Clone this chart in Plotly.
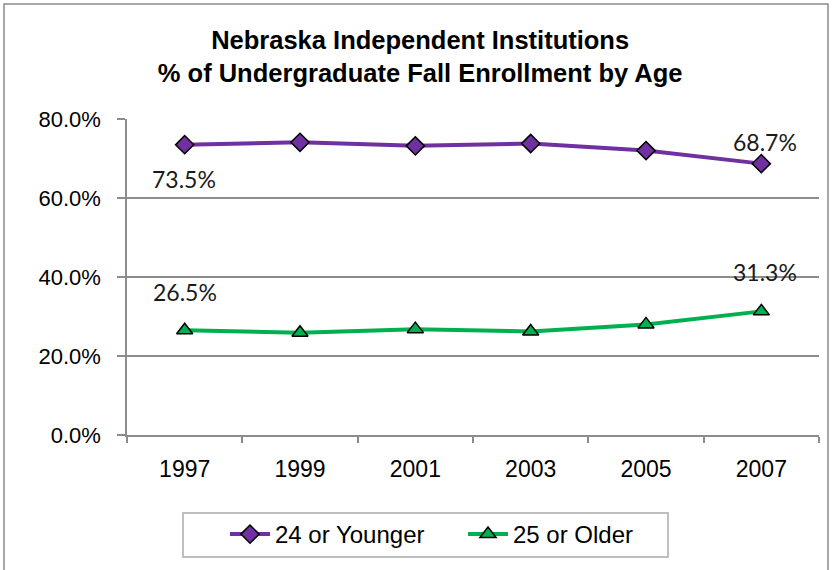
import plotly.graph_objects as go

years = ["1997", "1999", "2001", "2003", "2005", "2007"]
younger = [73.5, 74.1, 73.2, 73.8, 72.0, 68.7]
older = [26.5, 25.9, 26.8, 26.2, 28.0, 31.3]
y_ticks = [0, 20, 40, 60, 80]
y_tick_labels = ["0.0%", "20.0%", "40.0%", "60.0%", "80.0%"]

purple = "#7030A0"
green = "#00B050"
grid = "#8C8C8C"
arial = "Liberation Sans, Arial, sans-serif"

L, R, T, B = 127, 13, 119, 135
W, H = 832, 570
pw, ph = W - L - R, H - T - B


def px_x(v):
    return (v - L) / pw


def px_y(v):
    return (T + ph - v) / ph


fig = go.Figure()
fig.add_trace(go.Scatter(
    x=years, y=younger, name="24 or Younger", mode="lines+markers",
    line=dict(color=purple, width=4),
    marker=dict(symbol="diamond", size=14, color=purple, line=dict(color="black", width=1.5)),
))
fig.add_trace(go.Scatter(
    x=years, y=older, name="25 or Older", mode="lines+markers",
    line=dict(color=green, width=4),
    marker=dict(symbol="triangle-up", size=14, color=green, line=dict(color="black", width=1.5)),
))

label_font = dict(family="Lato, Open Sans, sans-serif", size=23, color="#1a1a1a")
ann = [
    (0, younger[0], -34, -1),
    (5, younger[-1], 22, 4),
    (0, older[0], 38, 0),
    (5, older[-1], 39, 4),
]
for (xi, yv, ys, xs) in ann:
    fig.add_annotation(x=xi, y=yv, xref="x", yref="y", text=f"{yv:.1f}%", showarrow=False,
                       yshift=ys, xshift=xs, font=label_font)

fig.update_layout(
    width=W, height=H,
    margin=dict(l=L, r=R, t=T, b=B, autoexpand=False),
    paper_bgcolor="white", plot_bgcolor="white",
    title=dict(
        text="Nebraska Independent Institutions<br>% of Undergraduate Fall Enrollment by Age",
        x=0.505, xref="container", xanchor="center",
        y=0.914, yref="container", yanchor="top",
        font=dict(family=arial, size=25.5, color="black", weight="bold"),
    ),
    showlegend=True,
    legend=dict(
        orientation="h", xref="container", yref="container",
        x=225 / W, y=1 - 512 / H, xanchor="left", yanchor="top",
        borderwidth=0, bgcolor="rgba(0,0,0,0)",
        font=dict(family=arial, size=24, color="black"),
        itemwidth=40, entrywidth=183,
    ),
    xaxis=dict(
        type="category", range=[-0.5, 5.5], showgrid=False, showline=True,
        linecolor=grid, linewidth=1.5, automargin=False,
        ticks="outside", tickson="boundaries", ticklen=6, tickcolor=grid, tickwidth=1.5,
        tickfont=dict(family=arial, size=23, color="black"),
        ticklabelstandoff=13, fixedrange=True,
    ),
    yaxis=dict(
        range=[0, 80], tickvals=y_ticks, ticktext=y_tick_labels, automargin=False,
        showgrid=True, gridcolor=grid, gridwidth=1.5, zeroline=False,
        showline=True, linecolor=grid, linewidth=1.5,
        ticks="outside", ticklen=8, tickcolor=grid, tickwidth=1.5,
        tickfont=dict(family=arial, size=22, color="black"),
        ticklabelstandoff=12, fixedrange=True,
    ),
    shapes=[
        dict(type="rect", xref="paper", yref="paper",
             x0=px_x(4), x1=px_x(828), y0=px_y(580), y1=px_y(4),
             line=dict(color="#8C8C8C", width=1.5), fillcolor="rgba(0,0,0,0)", layer="below"),
        dict(type="rect", xref="paper", yref="paper",
             x0=px_x(183), x1=px_x(668), y0=px_y(557), y1=px_y(513),
             line=dict(color="#BFBFBF", width=2), fillcolor="white", layer="below"),
    ],
)

fig.write_html("out.html", config={"displayModeBar": False},
               post_script="document.body.style.margin='0';")
